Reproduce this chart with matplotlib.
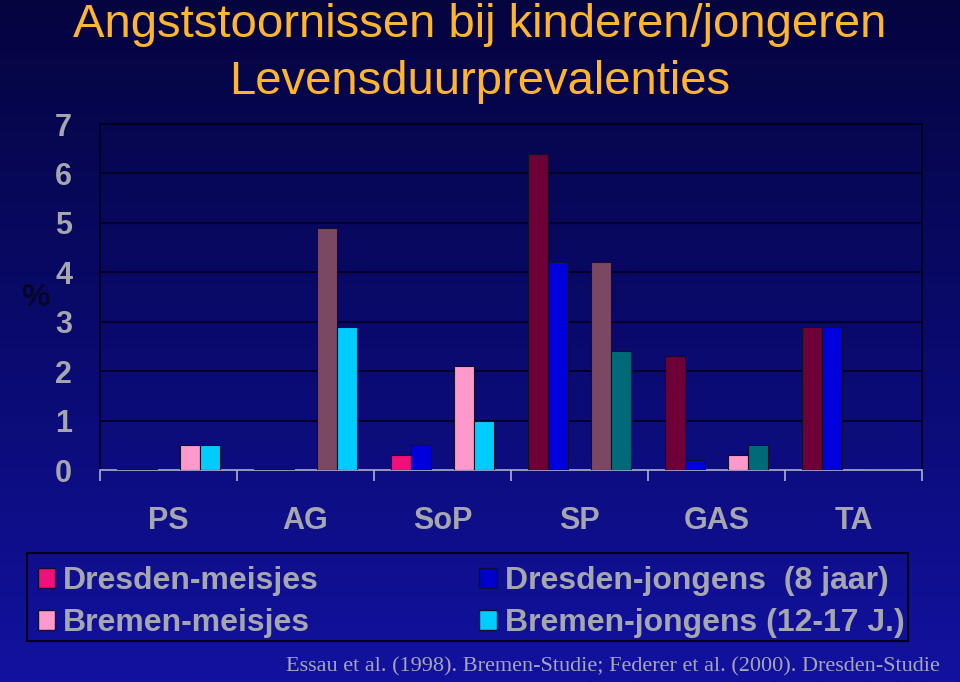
import matplotlib.pyplot as plt
import numpy as np
from matplotlib.patches import Patch, Rectangle
from matplotlib.colors import LinearSegmentedColormap

# data (lifetime prevalence, %)
categories = ["PS", "AG", "SoP", "SP", "GAS", "TA"]
series_names = ["Dresden-meisjes", "Dresden-jongens  (8 jaar)",
                "Bremen-meisjes", "Bremen-jongens (12-17 J.)"]
dresden_meisjes = [0.02, 0.02, 0.3, 6.4, 2.3, 2.9]
dresden_jongens = [0.02, 0.02, 0.5, 4.2, 0.2, 2.9]
bremen_meisjes = [0.5, 4.9, 2.1, 4.2, 0.3, 0.0]
bremen_jongens = [0.5, 2.9, 1.0, 2.4, 0.5, 0.0]

# colours per bar (the original slide colours each point separately)
col_dm = ["#d02848", "#d02848", "#f0107a", "#6e0038", "#6e0038", "#6e0038"]
col_dj = ["#200050", "#200050", "#0000dd", "#0000dd", "#0000dd", "#0000dd"]
col_bm = ["#ff99cc", "#7b4862", "#ff99cc", "#7b4862", "#ff99cc", "#ff99cc"]
col_bj = ["#00ccff", "#00ccff", "#00ccff", "#006a78", "#006a78", "#006a78"]
legend_cols = ["#f0107a", "#0000cc", "#ff99cc", "#00ccff"]

gray = "#a6a6ae"

fig = plt.figure(figsize=(9.6, 6.82), dpi=100)

# background gradient over the whole slide
bg = fig.add_axes([0, 0, 1, 1], zorder=-10)
cmap = LinearSegmentedColormap.from_list("bg", ["#04043f", "#0a0a6e", "#1212a0"])
bg.imshow(np.linspace(0, 1, 256).reshape(-1, 1), aspect="auto", cmap=cmap,
          extent=[0, 1, 0, 1], origin="upper")
bg.axis("off")

ax = fig.add_axes([100 / 960, 1 - 470 / 682, 822 / 960, 346 / 682])
ax.patch.set_alpha(0)

x = np.arange(len(categories))
w = 0.146
offsets = [-0.303, -0.157, 0.157, 0.303]
all_series = [dresden_meisjes, dresden_jongens, bremen_meisjes, bremen_jongens]
all_cols = [col_dm, col_dj, col_bm, col_bj]
for off, vals, cols in zip(offsets, all_series, all_cols):
    ax.bar(x + off, vals, width=w, color=cols, edgecolor="#10102a",
           linewidth=0.8, zorder=3)

ax.set_xlim(-0.5, len(categories) - 0.5)
ax.set_ylim(0, 7)
ax.set_yticks(range(0, 8))
ax.yaxis.grid(True, color="#000018", linewidth=1.2, zorder=1)
ax.set_axisbelow(True)

ax.set_xticks(x)
ax.set_xticklabels(categories)
ax.set_xticks(np.arange(-0.5, len(categories)), minor=True)
ax.tick_params(axis="x", which="major", length=0, pad=26, labelsize=22,
               labelcolor=gray)
ax.tick_params(axis="x", which="minor", length=8, width=1.2, color="#b0b0d0",
               direction="out")
ax.tick_params(axis="y", length=0, pad=20, labelsize=22, labelcolor=gray)
for lab in ax.get_xticklabels() + ax.get_yticklabels():
    lab.set_fontfamily("Liberation Sans")
    lab.set_fontweight("bold")

for side in ["left", "top", "right"]:
    ax.spines[side].set_color("#000018")
    ax.spines[side].set_linewidth(1.2)
ax.spines["bottom"].set_color("#b0b0d0")
ax.spines["bottom"].set_linewidth(1.2)

fig.text(35 / 960, 1 - 298 / 682, "%", fontsize=23, fontweight="bold",
         color="#06062a", family="Liberation Sans", ha="center", va="center")

# title
title_font = ["Liberation Sans Narrow", "Liberation Sans"]
fig.text(480 / 960, 1 - 37 / 682, "Angststoornissen bij kinderen/jongeren",
         fontsize=34, color="#ffb52e", family=title_font, ha="center",
         va="baseline")
fig.text(480 / 960, 1 - 94 / 682, "Levensduurprevalenties",
         fontsize=34, color="#ffb52e", family=title_font, ha="center",
         va="baseline")

# legend frame drawn separately so the rows can sit where they do on the slide
fig.patches.append(Rectangle((27 / 960, 1 - 641 / 682), 881 / 960, 88 / 682,
                             transform=fig.transFigure, facecolor="none",
                             edgecolor="#000018", linewidth=1.5))

# legend, filled row by row
order = [0, 2, 1, 3]
handles = [Patch(facecolor=legend_cols[i], edgecolor="#10102a", linewidth=1)
           for i in order]
labels = [series_names[i] for i in order]
leg = fig.legend(handles, labels, ncol=2, loc="lower left",
                 bbox_to_anchor=(28 / 960, 1 - 648 / 682, 886 / 960, 80 / 682),
                 mode="expand", frameon=False,
                 handlelength=0.55, handleheight=0.55, handletextpad=0.25,
                 labelspacing=0.38, borderpad=0.3, borderaxespad=0,
                 columnspacing=1.0,
                 prop={"family": "Liberation Sans", "weight": "bold", "size": 23})
for t in leg.get_texts():
    t.set_color(gray)

fig.text(940 / 960, 1 - 667 / 682,
         "Essau et al. (1998). Bremen-Studie; Federer et al. (2000). Dresden-Studie",
         fontsize=16, color="#a6a6b4", family="Liberation Serif", ha="right",
         va="center")

fig.savefig("out.png", dpi=100)
